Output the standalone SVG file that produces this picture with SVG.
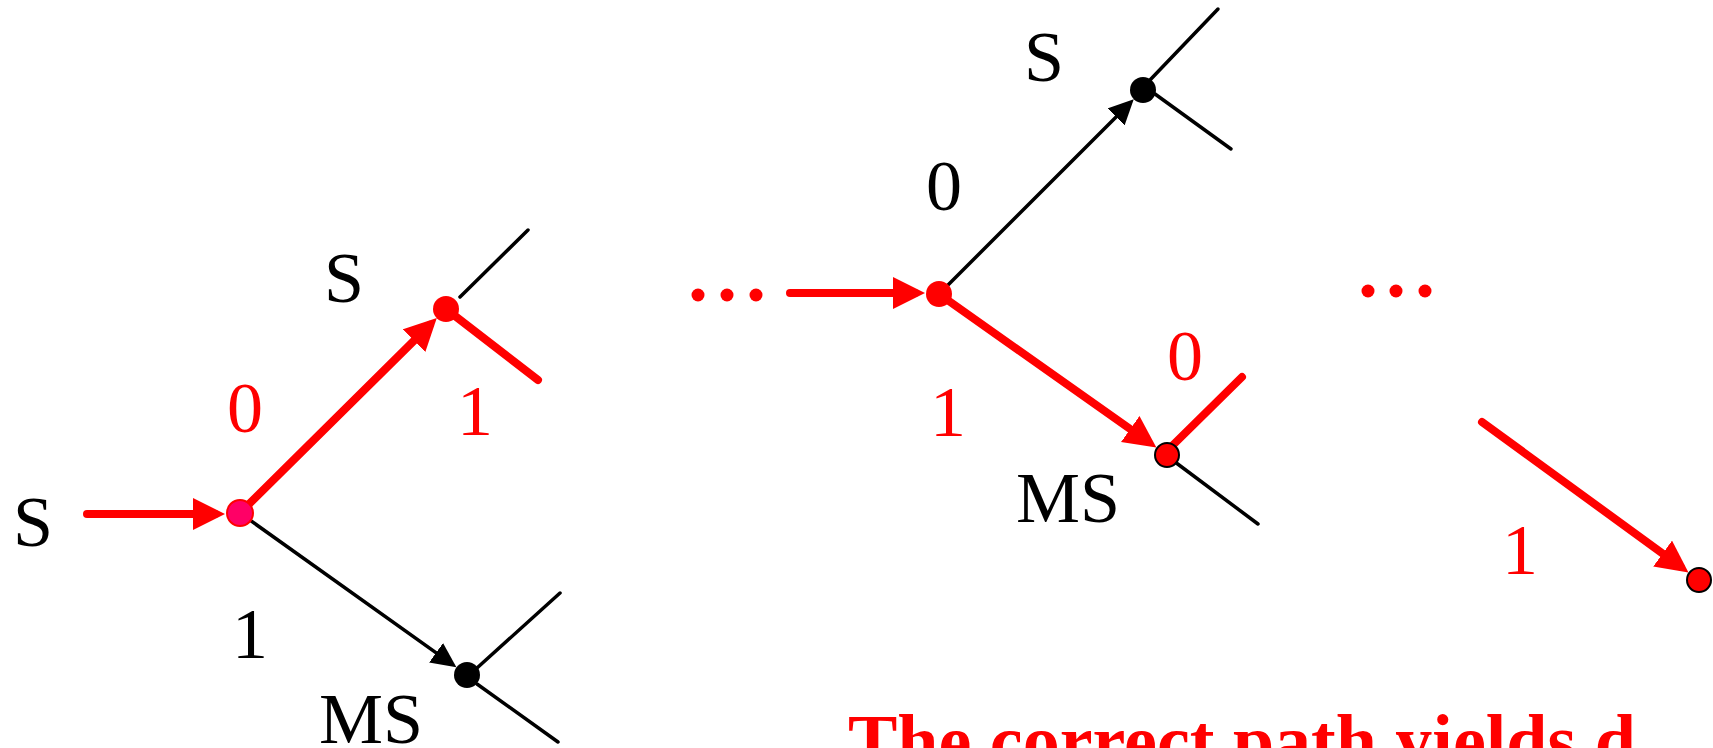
<svg xmlns="http://www.w3.org/2000/svg" width="1713" height="748" viewBox="0 0 1713 748">
<style>
.lbl{font-family:"Liberation Serif","Times New Roman",serif;font-size:72px;text-anchor:middle}
.blk{fill:#000}
.red{fill:#ff0000}
.rl{stroke:#ff0000;stroke-width:8;stroke-linecap:round;fill:none}
.bl{stroke:#000;stroke-width:3.5;stroke-linecap:round;fill:none}
.ra{marker-end:url(#ah-red)}
.ba{marker-end:url(#ah-blk)}
.title{font-family:"Liberation Serif","Times New Roman",serif;font-size:74px;font-weight:bold;fill:#ff0000}
</style>
<defs>
<marker id="ah-red" markerUnits="userSpaceOnUse" markerWidth="34" markerHeight="34" refX="22" refY="16" orient="auto">
<path d="M0,0 L32,16 L0,32 z" fill="#ff0000"/>
</marker>
<marker id="ah-blk" markerUnits="userSpaceOnUse" markerWidth="27" markerHeight="26" refX="17" refY="12" orient="auto">
<path d="M0,0 L25,12 L0,24 z" fill="#000"/>
</marker>
</defs>

<g id="connectors">
<!-- left tree -->
<line class="rl ra" x1="87" y1="514" x2="215" y2="514"/>
<line class="rl ra" x1="240" y1="513" x2="429.7" y2="325.1"/>
<line class="rl" x1="446" y1="309" x2="538" y2="380"/>
<line class="bl" x1="460" y1="297" x2="528" y2="230"/>
<line class="bl ba" x1="240" y1="513" x2="449.9" y2="662.7"/>
<line class="bl" x1="477" y1="668" x2="560" y2="593"/>
<line class="bl" x1="477" y1="684" x2="558" y2="742"/>
<!-- middle tree -->
<line class="rl ra" x1="790" y1="293" x2="915" y2="293"/>
<line class="bl ba" x1="939" y1="294" x2="1128.1" y2="104.9"/>
<line class="bl" x1="1150" y1="80" x2="1218" y2="9"/>
<line class="bl" x1="1155" y1="94" x2="1231" y2="149"/>
<line class="rl ra" x1="939" y1="294" x2="1148.2" y2="441.7"/>
<line class="rl" x1="1173" y1="445" x2="1242" y2="377"/>
<line class="bl" x1="1175" y1="462" x2="1258" y2="524"/>
<!-- right -->
<line class="rl ra" x1="1482" y1="422" x2="1680.4" y2="566.5"/>
</g>

<g id="dots-mid">
<circle cx="698" cy="295" r="6.5" fill="#ff0000"/>
<circle cx="727" cy="295" r="6.5" fill="#ff0000"/>
<circle cx="756" cy="295" r="6.5" fill="#ff0000"/>
</g>
<g id="dots-right">
<circle cx="1368" cy="291" r="6.5" fill="#ff0000"/>
<circle cx="1396" cy="291" r="6.5" fill="#ff0000"/>
<circle cx="1425" cy="291" r="6.5" fill="#ff0000"/>
</g>

<g id="node-left-root"><circle cx="240" cy="513" r="13" fill="#ff0066" stroke="#ff0000" stroke-width="2"/></g>
<g id="node-left-s"><circle cx="446" cy="309" r="13" fill="#ff0000"/></g>
<g id="node-left-ms"><circle cx="467" cy="675" r="13" fill="#000"/></g>
<g id="node-mid-root"><circle cx="939" cy="294" r="13" fill="#ff0000"/></g>
<g id="node-mid-s"><circle cx="1143" cy="90" r="13" fill="#000"/></g>
<g id="node-mid-ms"><circle cx="1167" cy="455" r="12" fill="#ff0000" stroke="#000" stroke-width="2"/></g>
<g id="node-right"><circle cx="1699" cy="580" r="12" fill="#ff0000" stroke="#000" stroke-width="2"/></g>

<g id="labels">
<text class="lbl blk" x="33" y="546">S</text>
<text class="lbl blk" x="344" y="302">S</text>
<text class="lbl red" x="245" y="432">0</text>
<text class="lbl red" x="475" y="435">1</text>
<text class="lbl blk" x="250" y="658">1</text>
<text class="lbl blk" x="371" y="743">MS</text>
<text class="lbl blk" x="1044" y="81">S</text>
<text class="lbl blk" x="944" y="210">0</text>
<text class="lbl red" x="948" y="436">1</text>
<text class="lbl red" x="1185" y="380">0</text>
<text class="lbl blk" x="1068" y="522">MS</text>
<text class="lbl red" x="1520" y="574">1</text>
</g>

<g id="caption">
<text class="title" x="848" y="766">The correct path yields d</text>
</g>
</svg>
